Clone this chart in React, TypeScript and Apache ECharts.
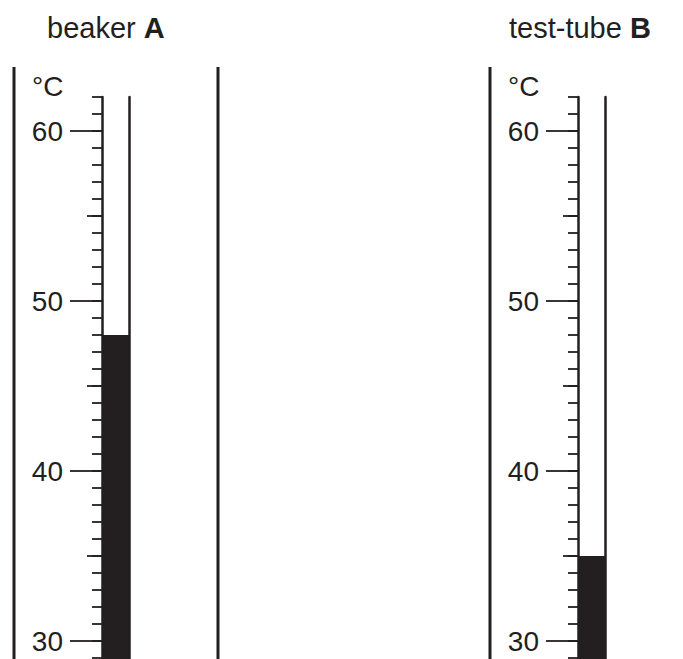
import React, { useEffect, useRef } from "react";
import * as echarts from "echarts";

// ---- data ----
const vesselNames = ["beaker ", "test-tube "];
const vesselLetters = ["A", "B"];
const readings = [48, 35]; // °C
const majorTicks = [30, 40, 50, 60];
const halfTicks = [35, 45, 55];
const scaleMin = 28;
const scaleMax = 62;
const unitLabel = "°C";

const INK = "#231f20";
const FONT = "'Liberation Sans', Arial, Helvetica, sans-serif";

export default function App() {
  const ref = useRef<HTMLDivElement>(null);

  useEffect(() => {
    if (!ref.current) return;
    const chart = echarts.init(ref.current, null, { renderer: "svg" });

    const axisX0 = [102, 578];
    const tubeW = 27;
    const top = 97;
    const pxPerDeg = 17;
    const height = (scaleMax - scaleMin) * pxPerDeg;

    const grid: any[] = [];
    const xAxis: any[] = [];
    const yAxis: any[] = [];
    const series: any[] = [];
    const graphic: any[] = [];

    readings.forEach((val, i) => {
      grid.push({
        left: axisX0[i],
        top,
        width: tubeW,
        height,
        containLabel: false,
        outerBoundsMode: "none",
      });
      xAxis.push({
        gridIndex: i,
        type: "category",
        data: [vesselLetters[i]],
        show: false,
        boundaryGap: true,
      });
      const base = {
        gridIndex: i,
        type: "value",
        min: scaleMin,
        max: scaleMax,
        splitLine: { show: false },
      };
      const y0 = yAxis.length;
      // minor ticks + axis line
      yAxis.push({
        ...base,
        interval: 1,
        position: "left",
        axisLine: { show: true, lineStyle: { color: INK, width: 2.5 } },
        axisTick: { show: true, length: 10, lineStyle: { color: INK, width: 1.8 } },
        axisLabel: { show: false },
      });
      // half ticks
      yAxis.push({
        ...base,
        position: "left",
        axisLine: { show: false },
        axisTick: {
          show: true,
          customValues: halfTicks,
          length: 15,
          lineStyle: { color: INK, width: 1.8 },
        },
        axisLabel: { show: false },
      });
      // major ticks + labels
      yAxis.push({
        ...base,
        position: "left",
        axisLine: { show: false },
        axisTick: {
          show: true,
          customValues: majorTicks,
          length: 32,
          lineStyle: { color: INK, width: 1.8 },
        },
        axisLabel: {
          show: true,
          customValues: majorTicks,
          margin: 39,
          fontSize: 28,
          fontFamily: FONT,
          color: INK,
        },
      });
      // tube right wall
      yAxis.push({
        ...base,
        position: "right",
        axisLine: { show: true, lineStyle: { color: INK, width: 2.5 } },
        axisTick: { show: false },
        axisLabel: { show: false },
      });
      series.push({
        type: "bar",
        xAxisIndex: i,
        yAxisIndex: y0,
        data: [val],
        barWidth: "100%",
        clip: true,
        itemStyle: { color: INK },
        z: 1,
      });

      const ox = axisX0[i] - 88;
      graphic.push({
        type: "line",
        shape: { x1: ox, y1: 67, x2: ox, y2: 659 },
        style: { stroke: INK, lineWidth: 3 },
      });
      if (i === 0) {
        graphic.push({
          type: "line",
          shape: { x1: 218, y1: 67, x2: 218, y2: 659 },
          style: { stroke: INK, lineWidth: 3 },
        });
      }
      graphic.push({
        type: "text",
        x: axisX0[i] - 70,
        y: 86,
        style: {
          text: unitLabel,
          font: `28px ${FONT}`,
          fill: INK,
          verticalAlign: "middle",
          align: "left",
        },
      });
      graphic.push({
        type: "text",
        x: i === 0 ? 47 : 509,
        y: 28,
        style: {
          text: `{n|${vesselNames[i]}}{b|${vesselLetters[i]}}`,
          verticalAlign: "middle",
          align: "left",
          rich: {
            n: { fontSize: 29, fontFamily: FONT, color: INK, fill: INK },
            b: { fontSize: 29, fontFamily: FONT, fontWeight: "bold", color: INK, fill: INK },
          },
        },
      });
    });

    chart.setOption({
      animation: false,
      backgroundColor: "#ffffff",
      grid,
      xAxis,
      yAxis,
      series,
      graphic,
    });

    return () => chart.dispose();
  }, []);

  return (
    <div
      ref={ref}
      style={{ position: "absolute", left: 0, top: 0, width: 683, height: 659 }}
    />
  );
}
